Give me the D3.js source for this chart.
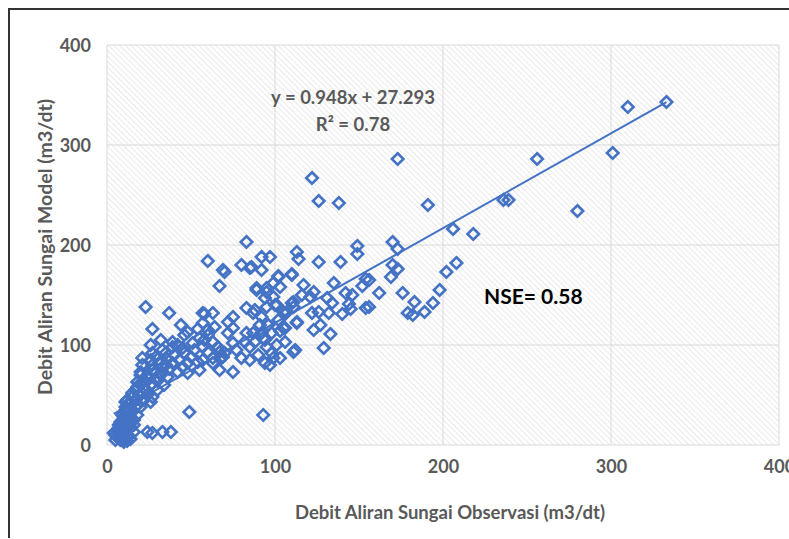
<!DOCTYPE html>
<html lang="id">
<head>
<meta charset="utf-8">
<title>Debit Aliran Sungai - Model vs Observasi</title>
<script src="https://d3js.org/d3.v7.min.js"></script>
<style>
body { margin: 0; background: #fff; }
svg text { font-family: Lato, "Open Sans", sans-serif; }
</style>
</head>
<body>
<div id="chart"></div>
<script>

var observasi = [
  333,310,301,256,280,236,239,173,191,206,218,122,126,138,170,173,170,173,169,208,
  202,162,176,183,198,194,189,179,182,156,156,113,114,149,149,126,139,110,135,117,
  152,154,123,116,131,142,146,111,134,144,126,132,140,154,145,113,127,133,129,111,
  105,106,93,83,60,69,70,80,86,92,97,92,67,102,110,89,99,102,57,63,
  57,64,72,75,75,72,83,88,89,94,95,99,101,103,107,110,87,92,95,96,
  102,106,113,91,87,92,98,103,83,75,82,85,94,101,106,77,80,85,90,95,
  98,103,94,97,99,70,63,68,67,75,63,57,58,63,60,121,122,123,88,93,
  112,57,67,85,95,100,105,111,60,
  23,37,27,49,44,54,58,46,39,32,26,21,27,35,39,45,51,55,60,66,
  69,21,20,27,33,39,43,48,54,30,36,42,48,55,21,17,15,27,26,21,
  13,11,10,8,7,5,8,12,16,8,13,12,17,24,27,33,38,11,18,20,48,
  5,6,8,9,10,12,13,14,6,8,10,11,14,16,13,9,15,18,17,19,
  22,24,23,26,28,30,32,26,29,33,36,40,42,46,50,52,45,37,34,30,
  24,22,20,18,16,11,14,7,9,12,15,18,20,25,27,31,35,10,4
];
var model = [
  343,338,292,286,234,245,245,286,240,216,211,267,244,242,203,196,180,176,168,182,
  173,152,152,143,155,142,133,132,130,165,138,193,186,199,191,183,183,170,162,160,
  159,166,153,150,147,152,150,143,142,141,133,132,131,137,136,122,120,111,97,93,
  117,131,30,203,184,175,173,180,178,188,188,175,159,169,171,157,162,168,132,132,
  122,118,123,128,117,112,137,135,155,147,157,148,140,158,133,142,132,128,138,120,
  125,117,123,120,112,112,112,114,112,102,103,98,105,100,103,95,87,85,90,98,
  92,87,82,80,87,92,87,87,75,73,82,85,105,103,115,148,132,115,103,107,
  95,98,93,177,153,140,133,138,110,
  138,132,116,33,120,116,131,110,103,105,100,87,92,92,98,97,102,107,93,98,
  88,80,70,80,78,82,85,82,83,68,68,73,72,75,62,55,48,48,43,52,
  42,35,28,23,17,10,7,8,13,13,22,32,38,13,12,13,13,43,63,73,113,
  5,8,5,10,6,4,9,6,14,18,20,15,18,25,28,24,33,40,45,50,
  65,70,56,60,72,64,70,85,88,95,86,90,100,92,88,95,78,76,60,55,
  50,45,38,30,20,38,42,20,30,45,52,58,62,66,75,82,80,3,12
];

// axis ticks and trendline (from the Excel label)
var xTicks = [0, 100, 200, 300, 400];
var yTicks = [0, 100, 200, 300, 400];
var slope = 0.948, intercept = 27.293, r2 = 0.78, nse = 0.58;

var W = 789, H = 539;
var plot = {left: 107, right: 779, top: 45, bottom: 445};
var blue = "#4472C4", grey = "#595959";

var svg = d3.select("#chart").append("svg")
    .attr("width", W)
    .attr("height", H);

// diagonal hatching for the plot area
var defs = svg.append("defs");
defs.append("pattern")
    .attr("id", "hatch")
    .attr("patternUnits", "userSpaceOnUse")
    .attr("width", 4)
    .attr("height", 4)
    .attr("patternTransform", "rotate(-45)")
  .append("line")
    .attr("x1", 0).attr("y1", 0)
    .attr("x2", 0).attr("y2", 4)
    .attr("stroke", "#d6d6d6")
    .attr("stroke-width", 1.1);

// outer frame (left and top edges visible)
svg.append("path")
    .attr("d", "M9,538 L9,9 L789,9")
    .attr("fill", "none")
    .attr("stroke", "#333")
    .attr("stroke-width", 2);

var x = d3.scaleLinear().domain([0, 400]).range([plot.left, plot.right]);
var y = d3.scaleLinear().domain([0, 400]).range([plot.bottom, plot.top]);

svg.append("rect")
    .attr("x", plot.left)
    .attr("y", plot.top)
    .attr("width", plot.right - plot.left)
    .attr("height", plot.bottom - plot.top)
    .attr("fill", "url(#hatch)");

// gridlines
svg.append("g").selectAll("line")
    .data(xTicks).enter().append("line")
    .attr("x1", function(d) { return x(d); })
    .attr("x2", function(d) { return x(d); })
    .attr("y1", plot.top).attr("y2", plot.bottom)
    .attr("stroke", "#d9d9d9").attr("stroke-width", 1);
svg.append("g").selectAll("line")
    .data(yTicks).enter().append("line")
    .attr("y1", function(d) { return y(d); })
    .attr("y2", function(d) { return y(d); })
    .attr("x1", plot.left).attr("x2", plot.right)
    .attr("stroke", "#d9d9d9").attr("stroke-width", 1);

// axes (labels only, Excel style)
var xAxis = svg.append("g")
    .attr("transform", "translate(0," + (plot.bottom + 15) + ")")
    .call(d3.axisBottom(x).tickValues(xTicks).tickSize(0).tickPadding(0));
var yAxis = svg.append("g")
    .attr("transform", "translate(" + (plot.left - 16) + ",0)")
    .call(d3.axisLeft(y).tickValues(yTicks).tickSize(0).tickPadding(0));
[xAxis, yAxis].forEach(function(a) {
  a.select(".domain").remove();
  a.selectAll("text")
    .attr("fill", grey)
    .style("font-size", "18px")
    .style("font-weight", "bold");
});
xAxis.selectAll("text").attr("dy", "0.71em");
yAxis.selectAll("text").attr("dy", "0.35em");

// axis titles
svg.append("text")
    .attr("x", 450)
    .attr("y", 519)
    .attr("text-anchor", "middle")
    .attr("fill", grey)
    .style("font-size", "18.5px")
    .style("font-weight", "bold")
    .text("Debit Aliran Sungai Observasi (m3/dt)");

svg.append("text")
    .attr("transform", "translate(52,247) rotate(-90)")
    .attr("text-anchor", "middle")
    .attr("fill", grey)
    .style("font-size", "19.5px")
    .style("font-weight", "bold")
    .text("Debit Aliran Sungai Model (m3/dt)");

// scatter points, hollow diamonds
var pts = observasi.map(function(d, i) { return [d, model[i]]; });
svg.append("g").selectAll("path")
    .data(pts).enter().append("path")
    .attr("d", d3.symbol().type(d3.symbolDiamond2).size(85))
    .attr("transform", function(d) { return "translate(" + x(d[0]) + "," + y(d[1]) + ")"; })
    .attr("fill", "none")
    .attr("stroke", blue)
    .attr("stroke-width", 2.6);

// linear trendline over the data range
var xr = d3.extent(observasi);
svg.append("line")
    .attr("x1", x(xr[0])).attr("y1", y(slope * xr[0] + intercept))
    .attr("x2", x(xr[1])).attr("y2", y(slope * xr[1] + intercept))
    .attr("stroke", blue)
    .attr("stroke-width", 2);

// trendline label
svg.append("text")
    .attr("x", 353).attr("y", 104)
    .attr("text-anchor", "middle")
    .attr("fill", grey)
    .style("font-size", "18.5px")
    .style("font-weight", "bold")
    .text("y = " + slope + "x + " + intercept);
svg.append("text")
    .attr("x", 353).attr("y", 131)
    .attr("text-anchor", "middle")
    .attr("fill", grey)
    .style("font-size", "18.5px")
    .style("font-weight", "bold")
    .text("R\u00b2 = " + r2);

svg.append("text")
    .attr("x", 484).attr("y", 304)
    .attr("fill", "#000")
    .style("font-size", "21px")
    .style("font-weight", "bold")
    .text("NSE= " + nse);

</script>
</body>
</html>
